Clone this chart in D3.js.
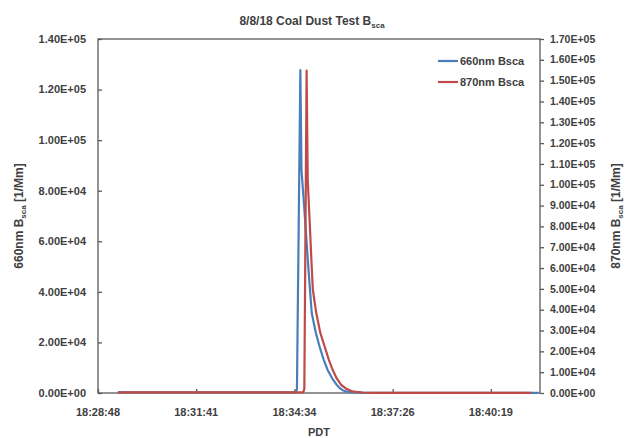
<!DOCTYPE html>
<html>
<head>
<meta charset="utf-8">
<script src="https://cdn.jsdelivr.net/npm/d3@7.9.0/dist/d3.min.js"></script>
<style>
  body { margin: 0; background: #fff; }
  svg { font-family: "Liberation Sans", Arial, sans-serif; font-weight: bold; fill: #404040; }
</style>
</head>
<body>
<svg id="chart" width="627" height="438"></svg>
<script>
// seconds after 18:28:48 (= 0.770 day)
const blueT = [35, 100, 200, 300, 348, 350, 356, 358, 364, 370, 373, 376, 383, 390, 397, 404, 412, 420, 426, 431, 438, 445, 465, 500, 600, 700, 775];
const blueV = [300, 250, 300, 280, 300, 1500, 127700, 88200, 69600, 49800, 40700, 31600, 24000, 18200, 13200, 9100, 5800, 3200, 1800, 1000, 550, 300, 150, 100, 80, 80, 80];

const redT = [35, 100, 200, 300, 361, 363, 367, 369, 372, 376, 378, 384, 391, 399, 406, 413, 420, 428, 437, 446, 455, 465, 485, 520, 600, 700, 762];
const redV = [300, 300, 300, 300, 300, 2000, 154800, 102300, 84500, 60500, 49500, 38400, 29000, 22100, 16000, 11000, 7000, 3840, 2000, 960, 500, 250, 100, 80, 80, 80, 80];

const xTicks = [0.770, 0.772, 0.774, 0.776, 0.778];
const xTickLabels = ["18:28:48", "18:31:41", "18:34:34", "18:37:26", "18:40:19"];
const leftTicks = d3.range(0, 140001, 20000);
const rightTicks = d3.range(0, 170001, 10000);

const seriesNames = ["660nm Bsca", "870nm Bsca"];
const colors = ["#4a7ebb", "#be4b48"];

const svg = d3.select('#chart');
const m = { left: 98, right: 540, top: 39, bottom: 393 };

const x = d3.scaleLinear().domain([0.770, 0.779]).range([m.left, m.right]);
const yL = d3.scaleLinear().domain([0, 140000]).range([m.bottom, m.top]);
const yR = d3.scaleLinear().domain([0, 170000]).range([m.bottom, m.top]);

const sci = v => v.toExponential(2).toUpperCase().replace(/E([+-])(\d)$/, 'E$10$2');
const toDay = s => 0.770 + s / 86400;

// frame
svg.append('rect')
  .attr('x', m.left).attr('y', m.top)
  .attr('width', m.right - m.left).attr('height', m.bottom - m.top)
  .attr('fill', 'none').attr('stroke', '#595959').attr('stroke-width', 1.3);

// axes
const axL = svg.append('g').attr('transform', `translate(${m.left},0)`)
  .call(d3.axisRight(yL).tickValues(leftTicks).tickSize(4).tickFormat(''));
const axR = svg.append('g').attr('transform', `translate(${m.right},0)`)
  .call(d3.axisRight(yR).tickValues(rightTicks).tickSize(4).tickFormat(''));
const axB = svg.append('g').attr('transform', `translate(0,${m.bottom})`)
  .call(d3.axisTop(x).tickValues(xTicks).tickSize(4).tickFormat(''));
[axL, axR, axB].forEach(g => {
  g.select('.domain').remove();
  g.selectAll('line').attr('stroke', '#595959').attr('stroke-width', 1.3);
});

svg.append('g').selectAll('text').data(leftTicks).join('text')
  .attr('x', 86).attr('y', d => yL(d)).attr('dy', '0.35em')
  .attr('text-anchor', 'end').attr('font-size', 11).text(sci);

svg.append('g').selectAll('text').data(rightTicks).join('text')
  .attr('x', 550).attr('y', d => yR(d)).attr('dy', '0.35em')
  .attr('font-size', 10.5).text(sci);

svg.append('g').selectAll('text').data(xTicks).join('text')
  .attr('x', d => x(d)).attr('y', 416)
  .attr('text-anchor', 'middle').attr('font-size', 11)
  .text((d, i) => xTickLabels[i]);

// lines
const series = [
  blueT.map((t, i) => [toDay(t), blueV[i]]),
  redT.map((t, i) => [toDay(t), redV[i]])
];
const scales = [yL, yR];
series.forEach((s, k) => {
  svg.append('path').datum(s)
    .attr('fill', 'none').attr('stroke', colors[k]).attr('stroke-width', 2.2)
    .attr('stroke-linejoin', 'round')
    .attr('d', d3.line().x(d => x(d[0])).y(d => scales[k](d[1])));
});

// titles
const title = svg.append('text').attr('x', 312).attr('y', 25)
  .attr('text-anchor', 'middle').attr('font-size', 12);
title.append('tspan').text('8/8/18 Coal Dust Test B');
title.append('tspan').attr('font-size', 8).attr('dy', 3).text('sca');

svg.append('text').attr('x', 319).attr('y', 436)
  .attr('text-anchor', 'middle').attr('font-size', 11).text('PDT');

function axisTitle(cx, label) {
  const t = svg.append('text')
    .attr('transform', `translate(${cx},216) rotate(-90)`)
    .attr('text-anchor', 'middle').attr('font-size', 12);
  t.append('tspan').text(label + ' B');
  t.append('tspan').attr('font-size', 8).attr('dy', 3).text('sca');
  t.append('tspan').attr('dy', -3).text(' [1/Mm]');
}
axisTitle(23, '660nm');
axisTitle(620, '870nm');

// legend
seriesNames.forEach((n, i) => {
  const ly = 61 + i * 21;
  svg.append('line').attr('x1', 438).attr('x2', 458).attr('y1', ly).attr('y2', ly)
    .attr('stroke', colors[i]).attr('stroke-width', 2.2);
  svg.append('text').attr('x', 460).attr('y', ly).attr('dy', '0.35em')
    .attr('font-size', 11).text(n);
});
</script>
</body>
</html>
